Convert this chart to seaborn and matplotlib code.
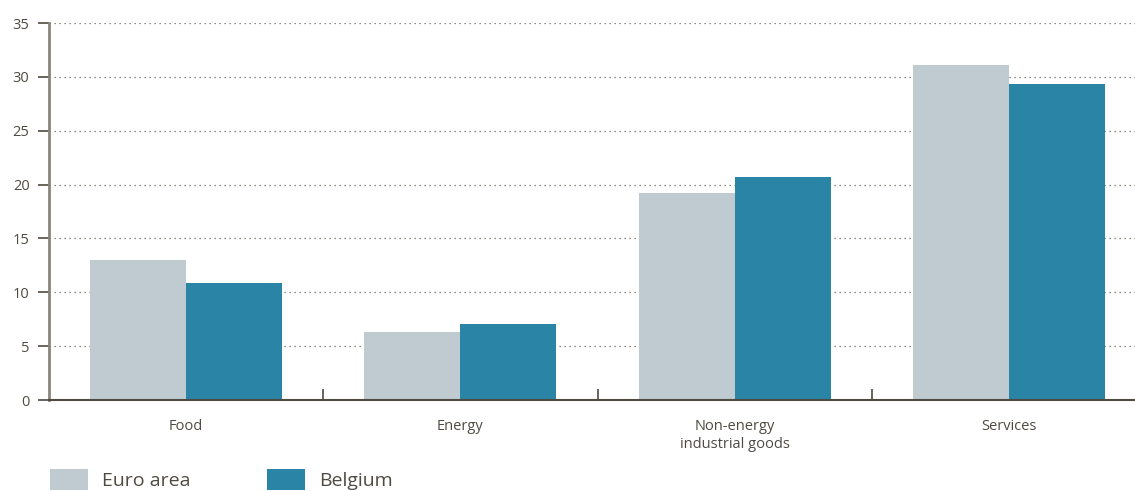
import pandas as pd
import matplotlib
matplotlib.use("Agg")
import matplotlib.pyplot as plt
import seaborn as sns

categories = ["Food", "Energy", "Non-energy\nindustrial goods", "Services"]
euro_area = [13.0, 6.3, 19.2, 31.1]
belgium = [10.9, 7.05, 20.7, 29.3]
series_names = ["Euro area", "Belgium"]
y_ticks = [0, 5, 10, 15, 20, 25, 30, 35]

TEXT = "#4f4a42"
colours = {"Euro area": "#bfcbd1", "Belgium": "#2a84a5"}

df = pd.DataFrame({
    "category": categories * 2,
    "series": [series_names[0]] * 4 + [series_names[1]] * 4,
    "value": euro_area + belgium,
})

sns.set_theme(style="white")
plt.rcParams["font.family"] = ["Open Sans", "DejaVu Sans"]

fig = plt.figure(figsize=(11.35, 4.91), dpi=100)
ax = fig.add_axes([49 / 1135, 91 / 491, 1097 / 1135, 377 / 491])

sns.barplot(data=df, x="category", y="value", hue="series", order=categories,
            hue_order=series_names, palette=colours, width=0.7, saturation=1,
            linewidth=0, ax=ax, zorder=3)

ax.set_xlim(-0.5, 3.5)
ax.set_ylim(0, 35)
ax.set_yticks(y_ticks)
ax.set_xlabel("")
ax.set_ylabel("")

# dotted grid
ax.set_axisbelow(True)
ax.yaxis.grid(True, color="#6b665c", linestyle=(0, (1, 3)), linewidth=0.9)
ax.xaxis.grid(False)

for s in ["top", "right"]:
    ax.spines[s].set_visible(False)
ax.spines["left"].set_color("#8a857a")
ax.spines["left"].set_linewidth(2)
ax.spines["bottom"].set_color(TEXT)
ax.spines["bottom"].set_linewidth(1.5)
ax.spines["bottom"].set_zorder(4)

ax.tick_params(axis="y", direction="out", length=8, width=1.2, color=TEXT,
               labelcolor=TEXT, labelsize=10.5, pad=6, left=True)
ax.tick_params(axis="x", which="major", length=0, labelcolor=TEXT,
               labelsize=10.5, pad=14)
ax.set_xticks([0.5, 1.5, 2.5], minor=True)
ax.tick_params(axis="x", which="minor", direction="in", length=8, width=1.2,
               color=TEXT, bottom=True)

handles, labels = ax.get_legend_handles_labels()
for h in handles:
    h.set_linewidth(0)
ax.get_legend().remove()
fig.legend(handles, labels, loc="upper left", ncol=2, frameon=False,
           bbox_to_anchor=(50 / 1135, 1 - 469 / 491), borderpad=0,
           borderaxespad=0, fontsize=14, handlelength=1.95, handleheight=1.3,
           handletextpad=0.75, columnspacing=3.9, labelcolor=TEXT)

fig.savefig("out.png", dpi=100)
